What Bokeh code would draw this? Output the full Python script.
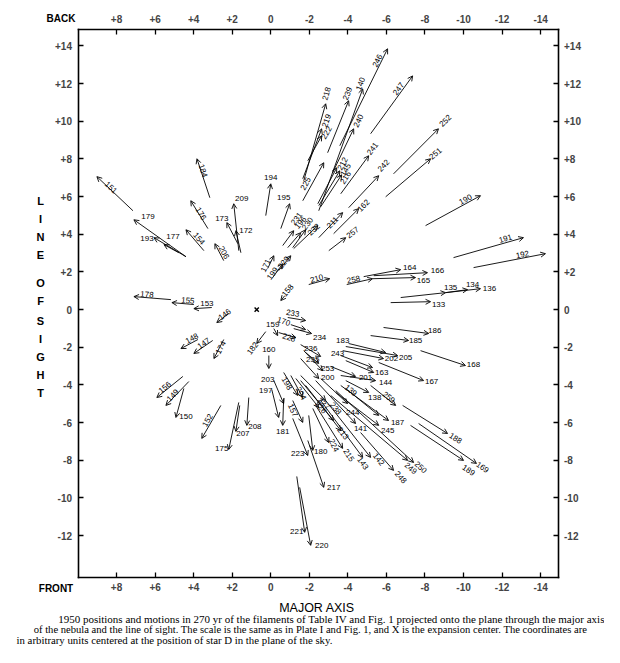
import math
from bokeh.plotting import figure
from bokeh.models import (Range1d, ColumnDataSource, Arrow, OpenHead, Label,
                          LinearAxis, FixedTicker)
from bokeh.embed import file_html
from bokeh.resources import INLINE
from bokeh.core.properties import value

# ---------------- data: 1950 position (start) and position after 270 yr (end)
ids = ["151","179","193","177","184","176","154","209","173","172","206",
       "178","155","153","146","148","147","174","182","156","149","150","152",
       "208","207","175","194","195","231","196","230","232","171","199","229",
       "218","219","222","225","239","140","246","240","247","252","251","241",
       "242","162","257","211","212","145","216","190","191","192","210","158",
       "258","164","166","165","133","135","134","136","233","170","234","159",
       "228","160","186","185","168","183","205","202","167","243","163","201",
       "144","138","259","235","236","253","200","139","244","187","245","141",
       "213","238","227","226","224","215","143","142","248","249","250","188",
       "169","189","204","198","157","203","197","181","223","180","217","221","220"]
x_1950 = [7.15,4.40,4.40,4.77,3.16,3.26,3.47,1.66,1.71,1.55,2.44,
          5.18,3.99,3.06,2.18,3.78,3.01,2.44,0.26,4.56,4.25,4.51,2.59,
          1.14,1.61,1.66,0.26,-0.52,-0.62,-0.88,-1.14,-1.19,0.16,-0.10,-0.41,
          -1.71,-1.66,-1.92,-1.66,-2.95,-2.49,-3.58,-3.21,-5.18,-6.37,-5.96,-3.63,
          -4.04,-3.26,-3.01,-2.49,-2.44,-2.49,-2.59,-8.03,-9.48,-10.52,-1.97,-0.73,
          -3.94,-4.82,-5.34,-5.28,-6.22,-6.74,-9.07,-9.07,-0.88,-1.04,-1.19,-0.16,
          -0.41,0.10,-5.85,-5.18,-7.77,-4.04,-3.89,-3.73,-5.60,-3.63,-3.89,-3.11,
          -3.63,-3.89,-5.18,-1.81,-1.55,-1.71,-1.55,-3.89,-2.59,-3.63,-3.37,-2.33,
          -1.81,-1.55,-1.55,-1.30,-2.18,-2.33,-2.59,-2.85,-4.66,-3.11,-3.37,-6.84,
          -7.67,-7.25,-1.04,-0.67,-1.14,-0.16,-0.05,-0.67,-1.14,-1.97,-1.92,-1.35,-1.50]
y_1950 = [5.25,2.81,2.81,3.02,5.94,4.30,3.13,3.13,3.50,3.02,2.60,
          0.53,0.27,0.11,-0.21,-1.59,-1.64,-1.59,-1.17,-3.55,-3.82,-4.19,-5.09,
          -4.67,-5.09,-4.93,4.99,4.30,3.40,3.29,3.29,3.24,2.18,1.70,2.07,
          6.84,6.95,7.90,5.78,8.33,5.25,8.70,7.27,9.34,7.21,5.99,6.15,
          5.41,4.03,3.13,3.82,5.62,5.52,5.46,4.46,2.76,2.23,1.33,0.74,
          1.33,1.75,1.80,1.64,0.37,0.64,0.90,0.90,-0.42,-0.80,-1.01,-1.01,
          -1.22,-2.44,-0.95,-1.38,-2.18,-1.80,-1.96,-2.18,-2.81,-2.44,-2.71,-3.02,
          -3.50,-3.77,-4.03,-2.28,-1.86,-2.18,-2.60,-4.19,-3.66,-4.03,-4.40,-3.77,
          -4.03,-3.77,-3.50,-3.66,-5.25,-5.09,-4.83,-4.83,-6.53,-4.56,-4.30,-5.09,
          -6.05,-6.15,-3.50,-3.34,-4.83,-3.77,-4.24,-4.72,-5.78,-5.62,-6.95,-8.86,-9.44]
x_270yr = [9.02,7.10,6.06,5.54,3.83,4.15,4.40,1.92,2.28,1.81,2.90,
           7.10,5.13,3.99,2.80,4.66,3.99,2.95,0.73,5.91,5.44,4.92,3.58,
           1.24,1.81,2.18,0.00,-0.98,-1.19,-1.55,-1.81,-2.44,-0.16,-0.62,-1.04,
           -2.85,-2.64,-2.64,-2.75,-4.04,-4.77,-6.06,-4.30,-7.36,-8.70,-8.29,-5.08,
           -5.60,-4.56,-3.89,-3.73,-3.42,-3.58,-3.68,-10.88,-13.11,-14.25,-3.06,-0.52,
           -5.28,-6.74,-8.13,-7.51,-8.29,-9.07,-10.21,-10.88,-1.81,-1.81,-2.12,-0.36,
           -1.30,0.10,-8.19,-7.15,-10.10,-5.96,-6.58,-5.85,-7.93,-5.28,-5.34,-4.40,
           -5.44,-5.08,-6.48,-2.49,-2.59,-2.69,-2.49,-5.60,-3.99,-6.11,-5.60,-4.40,
           -3.63,-3.26,-2.85,-2.49,-3.01,-3.73,-4.77,-5.18,-6.37,-7.10,-7.41,-9.17,
           -10.67,-10.00,-1.66,-1.40,-1.66,-0.67,-0.41,-0.62,-1.92,-2.18,-2.75,-1.76,-2.07]
y_270yr = [7.06,4.77,3.82,3.45,8.01,5.78,4.24,5.62,4.62,4.19,3.50,
           0.69,0.37,0.05,-0.69,-2.07,-2.33,-2.60,-1.80,-4.67,-5.09,-5.73,-6.84,
           -6.15,-6.47,-7.43,6.68,5.62,4.19,4.08,4.24,4.46,2.86,2.44,2.86,
           10.93,9.60,9.23,7.80,11.09,11.72,13.85,9.60,12.41,9.60,8.01,8.17,
           7.11,5.36,3.82,5.15,7.53,7.37,7.16,6.05,3.82,2.97,1.64,0.48,
           1.64,2.12,1.96,1.70,0.42,0.90,1.06,1.11,-0.58,-1.06,-1.27,-1.38,
           -1.49,-3.13,-1.27,-1.64,-2.97,-2.28,-2.44,-2.60,-3.77,-3.08,-3.34,-3.55,
           -3.77,-4.40,-5.09,-2.86,-2.49,-3.24,-3.66,-5.62,-4.99,-5.89,-6.15,-6.05,
           -6.42,-5.89,-4.83,-5.20,-7.06,-7.37,-7.85,-7.85,-8.54,-8.01,-8.12,-6.58,
           -8.17,-8.01,-4.67,-4.56,-5.99,-4.99,-5.73,-6.15,-7.75,-7.48,-9.44,-11.83,-12.52]
center_x = [0.73]
center_y = [0.0]

x_ticks = [8, 6, 4, 2, 0, -2, -4, -6, -8, -10, -12, -14]
y_ticks = [14, 12, 10, 8, 6, 4, 2, 0, -2, -4, -6, -8, -10, -12]
def tick_text(v):
    return "+%d" % v if v > 0 else "%d" % v

# ---------------- label placement (screen px relative to the arrow head) and style
lab_dx = [14,14,-7,9,6,10,13,8,-5,10,9,
          13,16,13,8,11,10,7,-4,8,7,10,6,
          8,7,-7,0,-6,3,0,2,-4,-8,-10,-7,
          1,5,5,-18,-1,-2,-10,5,-14,7,5,4,
          5,5,7,-10,6,6,4,-15,-18,-23,-13,7,
          -19,9,10,8,8,5,5,9,-13,-22,8,-5,
          -7,0,6,7,8,-43,8,8,8,-35,8,10,
          10,6,-7,-6,-10,5,9,-28,5,9,9,5,
          2,2,-2,2,5,6,0,8,7,3,7,8,
          6,5,-2,-11,-10,-16,-13,0,-10,8,10,-8,11]
lab_dy = [11,-3,1,-8,12,13,9,-5,-4,0,9,
          -2,-2,-5,-8,-10,-10,-11,5,-10,-10,-1,-18,
          1,2,-1,-6,-6,-12,-10,-6,4,10,10,7,
          -10,-8,-3,21,-7,-5,12,-8,13,-8,-5,-7,
          -10,-3,-5,10,-4,-1,3,4,1,1,0,-10,
          1,-2,-2,3,3,-5,-5,0,-7,-8,4,-11,
          0,-19,-3,0,-1,-12,2,0,1,-14,0,1,
          2,5,-8,-4,-8,-2,-1,-25,9,2,5,5,
          3,-12,3,0,3,7,6,2,7,8,5,5,
          4,10,-4,-12,-12,-24,-27,6,-2,1,0,-1,0]
rotated = set("151 184 176 154 206 178 155 146 148 147 174 182 156 149 152 "
              "231 196 230 232 171 199 229 218 219 222 225 239 140 246 240 247 "
              "252 251 241 242 162 257 211 212 145 216 190 191 192 210 158 258 "
              "233 170 228 259 139 213 238 227 226 224 215 143 142 248 249 250 "
              "188 169 189 204 198 157".split())

# ---------------- geometry: the box (x 10 .. -14.9, y -14.2 .. 14.9) sits inside a
# frame that covers the whole canvas, so the outer texts are drawn too
W, H = 604, 647
BOX_L, BOX_T, BOX_W, BOX_H = 77.5, 28.5, 480, 548
BX0, BX1, BY0, BY1 = 10.0, -14.9, -14.2, 14.9
PX = (BX0 - BX1) / BOX_W
PY = (BY1 - BY0) / BOX_H
XL = BX0 + BOX_L * PX
XR = XL - W * PX
YT = BY1 + BOX_T * PY
YB = YT - H * PY

def cx(px):
    return XL - px * PX

def cy(py):
    return YT - py * PY

angles = []
for i, t in enumerate(ids):
    if t in rotated:
        dxs = -(x_270yr[i] - x_1950[i]) / PX
        dys = (y_270yr[i] - y_1950[i]) / PY
        a = math.atan2(dys, dxs)
        if a > math.pi / 2:
            a -= math.pi
        if a < -math.pi / 2:
            a += math.pi
        angles.append(a)
    else:
        angles.append(0.0)

p = figure(width=W, height=H, x_range=Range1d(XL, XR), y_range=Range1d(YB, YT),
           output_backend="svg", toolbar_location=None,
           x_axis_location=None, y_axis_location=None,
           min_border=0)
p.grid.visible = False
p.outline_line_color = None
p.background_fill_color = "white"
p.border_fill_color = "white"

def make_axis(ticks, side, loc, bounds):
    ax = LinearAxis(ticker=FixedTicker(ticks=ticks), fixed_location=loc, bounds=bounds)
    ax.major_label_overrides = {v: tick_text(v) for v in ticks}
    ax.minor_tick_line_color = None
    ax.major_tick_in = 5
    ax.major_tick_out = 0
    ax.major_tick_line_width = 1.3
    ax.axis_line_width = 1.6
    ax.axis_line_cap = "square"
    ax.major_label_text_font = "Liberation Sans"
    ax.major_label_text_font_style = "bold"
    ax.major_label_text_font_size = "10px"
    ax.major_label_standoff = 6
    p.add_layout(ax, side)

make_axis(x_ticks, "above", BY1, (BX1, BX0))
make_axis(x_ticks, "below", BY0, (BX1, BX0))
make_axis(y_ticks, "left", BX0, (BY0, BY1))
make_axis(y_ticks, "right", BX1, (BY0, BY1))

src = ColumnDataSource(dict(x0=x_1950, y0=y_1950, x1=x_270yr, y1=y_270yr))
p.add_layout(Arrow(source=src, x_start="x0", y_start="y0", x_end="x1", y_end="y1",
                   line_color="black", line_width=0.9,
                   end=OpenHead(size=5, line_width=0.9, line_color="black")))

lsrc = ColumnDataSource(dict(x=x_270yr, y=y_270yr, t=ids, a=angles, dx=lab_dx, dy=lab_dy))
p.text(x="x", y="y", text="t", angle="a", x_offset="dx", y_offset="dy", source=lsrc,
       text_font=value("Liberation Sans"), text_font_size="8px",
       text_align="center", text_baseline="middle", text_color="black")

p.scatter(center_x, center_y, marker="x", size=6, line_width=1.4, color="black")

def add_label(px, py, txt, size, font="Liberation Sans", style="normal", align="center"):
    p.add_layout(Label(x=cx(px), y=cy(py), text=txt,
                       text_font=font, text_font_size=size,
                       text_font_style=style, text_align=align, text_baseline="middle",
                       text_color="black"))

add_label(60.5, 18, "BACK", "10px", style="bold")
add_label(55.5, 588, "FRONT", "10px", style="bold")
add_label(316.5, 607, "MAJOR AXIS", "12.5px")

sight_letters = ["L", "I", "N", "E", "O", "F", "S", "I", "G", "H", "T"]
sight_py = [200, 218, 236, 254, 282, 300, 320, 338, 356, 374, 392]
for ch, yy in zip(sight_letters, sight_py):
    add_label(40, yy, ch, "11px", style="bold")

cap1 = ("1950 positions and motions in 270 yr of the filaments of Table IV and Fig. 1 "
        "projected onto the plane through the major axis")
cap2 = ("of the nebula and the line of sight. The scale is the same as in Plate I and Fig. 1, "
        "and X is the expansion center. The coordinates are")
cap3 = "in arbitrary units centered at the position of star D in the plane of the sky."
add_label(331, 618, cap1, "11px", font="Liberation Serif")
add_label(310, 629, cap2, "10.6px", font="Liberation Serif")
add_label(16, 639.5, cap3, "10.8px", font="Liberation Serif", align="left")

open("out.html", "w").write(file_html(p, INLINE))
